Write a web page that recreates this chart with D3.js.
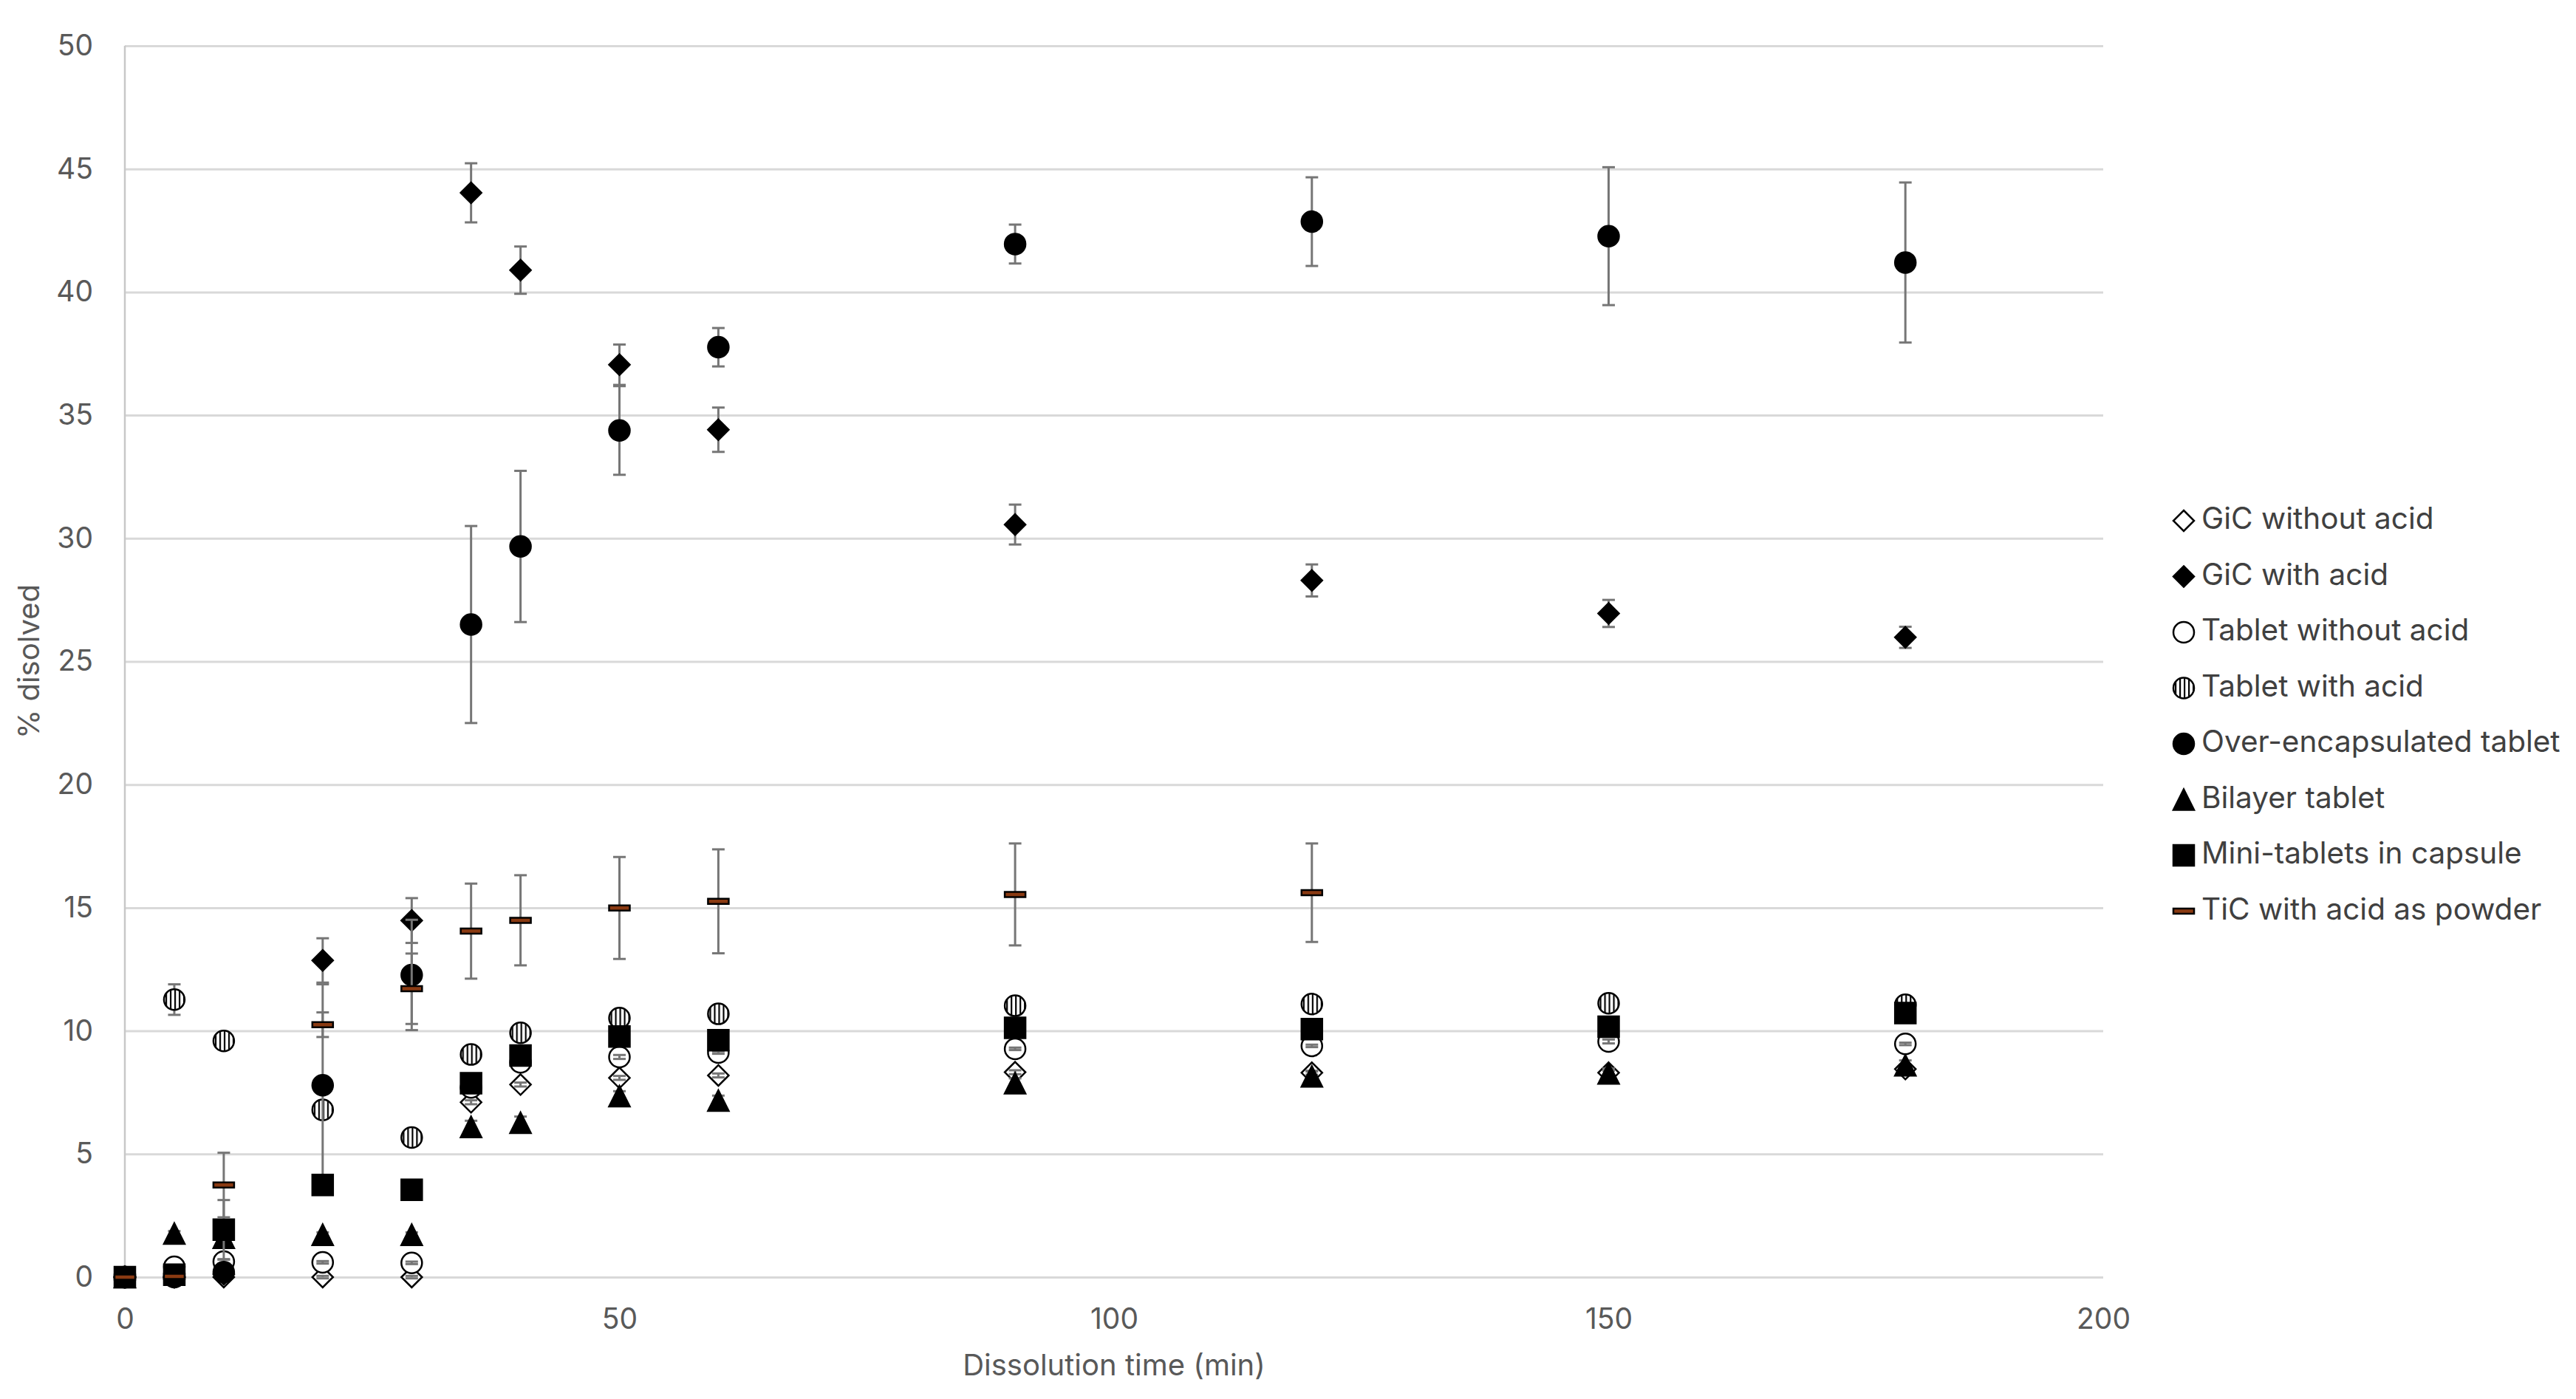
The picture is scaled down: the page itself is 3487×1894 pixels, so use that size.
<!DOCTYPE html>
<html>
<head>
<meta charset="utf-8">
<script src="https://cdn.jsdelivr.net/npm/d3@7"></script>
<style>
  html, body { margin: 0; padding: 0; background: #fff; }
  svg { display: block; }
  text { font-family: Inter, "Open Sans", sans-serif; }
</style>
</head>
<body>
<svg class="chart"></svg>
<script>
// sampling times (min)
const times = [0, 5, 10, 20, 29, 35, 40, 50, 60, 90, 120, 150, 180];

// % dissolved, mean and SD per formulation
const gicNoAcid = [0, 0, 0, 0, 0, 7.1, 7.82, 8.09, 8.19, 8.32, 8.3, 8.3, 8.45];
const gicNoAcidSd = [0, 0.05, 0.05, 0.05, 0.05, 0.08, 0.08, 0.08, 0.08, 0.08, 0.08, 0.08, 0.08];
const gicAcid = [0, 0, 0.12, 12.86, 14.48, 44.03, 40.89, 37.05, 34.41, 30.56, 28.29, 26.95, 25.98];
const gicAcidSd = [0, 0, 0.1, 0.9, 0.91, 1.2, 0.96, 0.82, 0.9, 0.81, 0.65, 0.55, 0.43];
const tabNoAcid = [0, 0.42, 0.63, 0.6, 0.58, 7.7, 8.72, 8.94, 9.12, 9.27, 9.39, 9.57, 9.47];
const tabNoAcidSd = [0, 0.08, 0.08, 0.05, 0.05, 0.05, 0.08, 0.08, 0.05, 0.05, 0.05, 0.08, 0.05];
const tabAcid = [0, 11.27, 9.59, 6.79, 5.67, 9.04, 9.92, 10.52, 10.69, 11.02, 11.09, 11.12, 11.06];
const tabAcidSd = [0, 0.62, 0.2, 0.2, 0.15, 0.2, 0.2, 0.3, 0.3, 0.3, 0.3, 0.3, 0.3];
const overEnc = [0, 0, 0.2, 7.79, 12.27, 26.5, 29.67, 34.38, 37.76, 41.95, 42.86, 42.27, 41.2];
const overEncSd = [0, 0, 0.1, 4.1, 2.24, 4.0, 3.07, 1.8, 0.78, 0.79, 1.8, 2.8, 3.25];
const bilayer = [0, 1.77, 1.6, 1.72, 1.72, 6.1, 6.27, 7.35, 7.17, 7.87, 8.15, 8.27, 8.6];
const bilayerSd = [0, 0.1, 0.1, 0.1, 0.1, 0.25, 0.25, 0.2, 0.2, 0.2, 0.2, 0.2, 0.2];
const miniTabs = [0, 0.1, 1.93, 3.74, 3.55, 7.87, 9.0, 9.77, 9.62, 10.12, 10.07, 10.17, 10.72];
const miniTabsSd = [0, 0.1, 1.2, 0.3, 0.1, 0.2, 0.2, 0.2, 0.2, 0.2, 0.2, 0.2, 0.2];
const ticPowder = [0, 0.03, 3.74, 10.25, 11.71, 14.05, 14.49, 14.99, 15.26, 15.54, 15.61, null, null];
const ticPowderSd = [0, 0, 1.31, 0.5, 1.43, 1.93, 1.83, 2.07, 2.11, 2.07, 2.0, null, null];

const xTicks = [0, 50, 100, 150, 200];
const yTicks = [0, 5, 10, 15, 20, 25, 30, 35, 40, 45, 50];

const W = 3487, H = 1894;
const margin = { top: 62, right: 640, bottom: 165, left: 169 };
const width = W - margin.left - margin.right;
const height = H - margin.top - margin.bottom;
const MARK = 28;

// custom marker shapes (size = bounding box area)
const symDiamond = { draw(c, s) { const r = Math.sqrt(s) / 2; c.moveTo(0, -r); c.lineTo(r, 0); c.lineTo(0, r); c.lineTo(-r, 0); c.closePath(); } };
const symCircle = { draw(c, s) { const r = Math.sqrt(s) / 2; c.moveTo(r, 0); c.arc(0, 0, r, 0, 2 * Math.PI); } };
const symTriangle = { draw(c, s) { const r = Math.sqrt(s) / 2; c.moveTo(0, -r); c.lineTo(r, r); c.lineTo(-r, r); c.closePath(); } };
const symSquare = { draw(c, s) { const r = Math.sqrt(s) / 2; c.rect(-r, -r, 2 * r, 2 * r); } };
const symDash = { draw(c, s) { const r = Math.sqrt(s) / 2; c.rect(-r, -3.5, 2 * r, 7); } };

const series = [
  { name: "GiC without acid", values: gicNoAcid, sd: gicNoAcidSd, type: symDiamond, fill: "#fff", barsOnTop: true },
  { name: "GiC with acid", values: gicAcid, sd: gicAcidSd, type: symDiamond, fill: "#000" },
  { name: "Tablet without acid", values: tabNoAcid, sd: tabNoAcidSd, type: symCircle, fill: "#fff", barsOnTop: true },
  { name: "Tablet with acid", values: tabAcid, sd: tabAcidSd, type: symCircle, fill: "url(#vstripe)" },
  { name: "Over-encapsulated tablet", values: overEnc, sd: overEncSd, type: symCircle, fill: "#000" },
  { name: "Bilayer tablet", values: bilayer, sd: bilayerSd, type: symTriangle, fill: "#000" },
  { name: "Mini-tablets in capsule", values: miniTabs, sd: miniTabsSd, type: symSquare, fill: "#000" },
  { name: "TiC with acid as powder", values: ticPowder, sd: ticPowderSd, type: symDash, fill: "#8a3a12" },
];

const svg = d3.select(".chart").attr("width", W).attr("height", H);

// vertical stripe fill for "Tablet with acid"
const pat = svg.append("defs").append("pattern")
  .attr("id", "vstripe")
  .attr("patternUnits", "userSpaceOnUse")
  .attr("width", 6).attr("height", 6);
pat.append("rect").attr("width", 6).attr("height", 6).attr("fill", "#fff");
pat.append("rect").attr("x", 0).attr("width", 2.2).attr("height", 6).attr("fill", "#000");

const g = svg.append("g").attr("transform", `translate(${margin.left},${margin.top})`);

const x = d3.scaleLinear().domain([0, 200]).range([0, width]);
const y = d3.scaleLinear().domain([0, 50]).range([height, 0]);

// gridlines
g.append("g")
  .attr("class", "grid")
  .call(d3.axisLeft(y).tickValues(yTicks).tickSize(-width).tickFormat(""))
  .call((s) => s.select(".domain").remove())
  .call((s) => s.selectAll("line").attr("stroke", "#d9d9d9").attr("stroke-width", 3));

// vertical axis line at x = 0
g.append("line")
  .attr("x1", x(0)).attr("x2", x(0))
  .attr("y1", y(50)).attr("y2", y(0))
  .attr("stroke", "#c8c8c8").attr("stroke-width", 2.5);

// axes
g.append("g")
  .call(d3.axisLeft(y).tickValues(yTicks).tickSize(0).tickPadding(43))
  .call((s) => s.select(".domain").remove())
  .call((s) => s.selectAll("text").attr("fill", "#595959").style("font-size", "39px"));

g.append("g")
  .attr("transform", `translate(0,${height})`)
  .call(d3.axisBottom(x).tickValues(xTicks).tickSize(0).tickPadding(42))
  .call((s) => s.select(".domain").remove())
  .call((s) => s.selectAll("text").attr("fill", "#595959").style("font-size", "39px"));

// axis titles
svg.append("text")
  .attr("transform", `translate(42,${margin.top + height / 2}) rotate(-90)`)
  .attr("text-anchor", "middle")
  .attr("dominant-baseline", "middle")
  .attr("fill", "#595959")
  .style("font-size", "40px")
  .text("% disolved");

svg.append("text")
  .attr("x", margin.left + width / 2)
  .attr("y", 1851)
  .attr("text-anchor", "middle")
  .attr("dominant-baseline", "middle")
  .attr("fill", "#595959")
  .style("font-size", "40px")
  .text("Dissolution time (min)");

// points + error bars, series in legend order
const CAP = 8.5;
series.forEach((s) => {
  const pts = times
    .map((t, i) => ({ t, v: s.values[i], sd: s.sd[i] }))
    .filter((d) => d.v !== null);
  const sg = g.append("g").attr("class", "series");

  const drawBars = () => {
    const eb = sg.append("g")
      .attr("stroke", "#767676")
      .attr("stroke-width", 3)
      .selectAll("g")
      .data(pts.filter((d) => d.sd > 0))
      .join("g");
    eb.append("line")
      .attr("x1", (d) => x(d.t)).attr("x2", (d) => x(d.t))
      .attr("y1", (d) => y(d.v + d.sd)).attr("y2", (d) => y(Math.max(0, d.v - d.sd)));
    eb.append("line")
      .attr("x1", (d) => x(d.t) - CAP).attr("x2", (d) => x(d.t) + CAP)
      .attr("y1", (d) => y(d.v + d.sd)).attr("y2", (d) => y(d.v + d.sd));
    eb.append("line")
      .attr("x1", (d) => x(d.t) - CAP).attr("x2", (d) => x(d.t) + CAP)
      .attr("y1", (d) => y(d.v - d.sd)).attr("y2", (d) => y(d.v - d.sd));
  };

  if (!s.barsOnTop) drawBars();
  sg.append("g")
    .selectAll("path")
    .data(pts)
    .join("path")
    .attr("transform", (d) => `translate(${x(d.t)},${y(d.v)})`)
    .attr("d", d3.symbol().type(s.type).size(MARK * MARK))
    .attr("fill", s.fill)
    .attr("stroke", "#000")
    .attr("stroke-width", 2.5);
  if (s.barsOnTop) drawBars();
});

// legend
const legend = svg.append("g").attr("transform", "translate(2956,705)");
const rows = legend.selectAll("g")
  .data(series)
  .join("g")
  .attr("transform", (d, i) => `translate(0,${i * 75.5})`);
rows.append("path")
  .attr("d", (d) => d3.symbol().type(d.type).size(MARK * MARK)())
  .attr("fill", (d) => d.fill)
  .attr("stroke", "#000")
  .attr("stroke-width", 2.5);
rows.append("text")
  .attr("x", 24)
  .attr("dominant-baseline", "middle")
  .attr("fill", "#404040")
  .style("font-size", "40.5px")
  .text((d) => d.name);
</script>
</body>
</html>
